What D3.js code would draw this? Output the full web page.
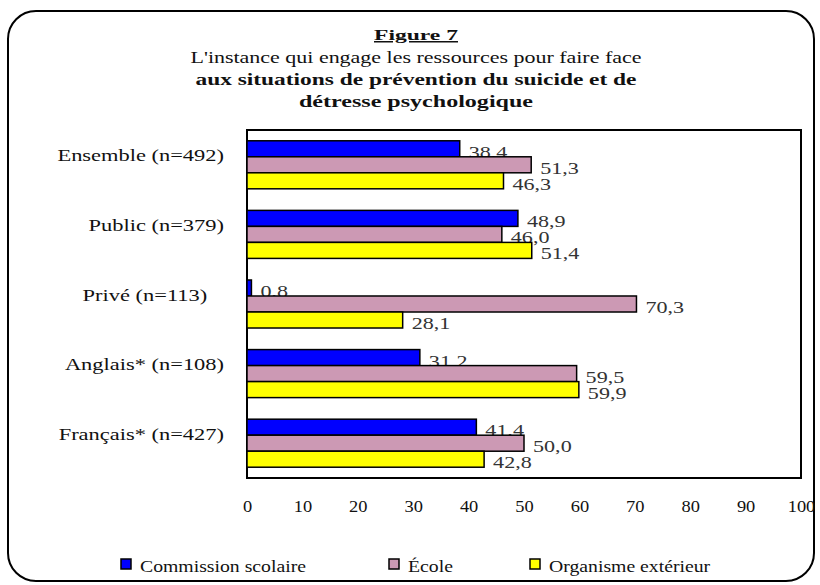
<!DOCTYPE html>
<html>
<head>
<meta charset="utf-8">
<script src="https://cdn.jsdelivr.net/npm/d3@7/dist/d3.min.js"></script>
<style>
  body { margin: 0; background: #fff; }
  svg text { font-family: "Liberation Serif", "Times New Roman", serif; }
</style>
</head>
<body>
<div id="chart"></div>
<script>
// data
const categories = ["Ensemble (n=492)", "Public (n=379)", "Privé (n=113)\u00a0\u00a0\u00a0", "Anglais* (n=108)", "Français* (n=427)"];
const seriesNames = ["Commission scolaire", "École", "Organisme extérieur"];
const commission = [38.4, 48.9, 0.8, 31.2, 41.4];
const ecole = [51.3, 46.0, 70.3, 59.5, 50.0];
const organisme = [46.3, 51.4, 28.1, 59.9, 42.8];
const xTicks = [0, 10, 20, 30, 40, 50, 60, 70, 80, 90, 100];
const titleLines = [
  "Figure 7",
  "L'instance qui engage les ressources pour faire face",
  "aux situations de prévention du suicide et de",
  "détresse psychologique"
];

const colors = ["#0000ff", "#cc99b4", "#ffff00"];
const seriesValues = [commission, ecole, organisme];

const width = 820, height = 585;
const plot = {left: 247, right: 801, top: 130, bottom: 478};

// the original glyphs are drawn wider than normal Times
function stretch(sel, k) {
  sel.each(function() {
    const len = this.getComputedTextLength();
    d3.select(this)
      .attr("textLength", len * k)
      .attr("lengthAdjust", "spacingAndGlyphs");
  });
}

const svg = d3.select("#chart").append("svg")
  .attr("width", width)
  .attr("height", height);

svg.append("rect")
  .attr("width", width).attr("height", height)
  .attr("fill", "#fff");

// rounded outer frame
svg.append("rect")
  .attr("x", 8).attr("y", 11)
  .attr("width", 806).attr("height", 570)
  .attr("rx", 28).attr("ry", 28)
  .attr("fill", "none")
  .attr("stroke", "#000")
  .attr("stroke-width", 2);

// title
const titleStyles = [
  {y: 40, size: 15, weight: "bold", deco: "underline", w: 84},
  {y: 63, size: 16, weight: "normal", deco: "none", w: 451},
  {y: 85, size: 16, weight: "bold", deco: "none", w: 441},
  {y: 107, size: 16, weight: "bold", deco: "none", w: 234}
];
svg.append("g").selectAll("text")
  .data(titleLines)
  .join("text")
  .attr("x", 416)
  .attr("y", (d, i) => titleStyles[i].y)
  .attr("text-anchor", "middle")
  .attr("font-size", (d, i) => titleStyles[i].size)
  .attr("font-weight", (d, i) => titleStyles[i].weight)
  .attr("text-decoration", (d, i) => titleStyles[i].deco)
  .attr("textLength", (d, i) => titleStyles[i].w)
  .attr("lengthAdjust", "spacingAndGlyphs")
  .attr("fill", "#111")
  .text(d => d);

const x = d3.scaleLinear().domain([0, 100]).range([plot.left, plot.right]);
const y = d3.scaleBand().domain(categories).range([plot.top, plot.bottom])
  .paddingInner(0.31).paddingOuter(0.155);
const ySub = d3.scaleBand().domain(seriesNames).range([0, y.bandwidth()]);

// plot box
svg.append("rect")
  .attr("x", plot.left).attr("y", plot.top)
  .attr("width", plot.right - plot.left)
  .attr("height", plot.bottom - plot.top)
  .attr("fill", "#fff")
  .attr("stroke", "#000")
  .attr("stroke-width", 2);

// bars and labels, one series at a time so later bars overlap earlier labels
seriesNames.forEach((name, si) => {
  const rows = categories.map((c, ci) => ({cat: c, value: seriesValues[si][ci]}));
  const g = svg.append("g");

  g.selectAll("rect")
    .data(rows)
    .join("rect")
    .attr("x", x(0))
    .attr("y", d => y(d.cat) + ySub(name))
    .attr("width", d => x(d.value) - x(0))
    .attr("height", ySub.bandwidth())
    .attr("fill", colors[si])
    .attr("stroke", "#000")
    .attr("stroke-width", 1.5);

  g.selectAll("text")
    .data(rows)
    .join("text")
    .attr("x", d => x(d.value) + 9)
    .attr("y", d => y(d.cat) + ySub(name) + ySub.bandwidth() / 2 + 9)
    .attr("font-size", 17)
    .attr("fill", "#333")
    .text(d => d3.format(".1f")(d.value).replace(".", ","))
    .call(stretch, 1.3);
});

// x axis (labels only)
const xAxis = svg.append("g")
  .attr("transform", "translate(0," + plot.bottom + ")")
  .call(d3.axisBottom(x).tickValues(xTicks).tickSize(0).tickPadding(23));
xAxis.select(".domain").remove();
xAxis.selectAll("text")
  .attr("font-size", 16)
  .attr("fill", "#111")
  .call(stretch, 1.15);

// category axis
const yAxis = svg.append("g")
  .attr("transform", "translate(" + plot.left + ",0)")
  .call(d3.axisLeft(y).tickSize(0).tickPadding(23));
yAxis.select(".domain").remove();
yAxis.selectAll("text")
  .attr("font-size", 17)
  .attr("dy", "-0.2em")
  .attr("fill", "#111")
  .call(stretch, 1.32);

// legend
const legendX = [121, 389, 530];
const legend = svg.append("g").selectAll("g")
  .data(seriesNames)
  .join("g")
  .attr("transform", (d, i) => "translate(" + legendX[i] + ",559)");
legend.append("rect")
  .attr("width", 10).attr("height", 10)
  .attr("fill", (d, i) => colors[i])
  .attr("stroke", "#000")
  .attr("stroke-width", 1.5);
legend.append("text")
  .attr("x", 19).attr("y", 13)
  .attr("font-size", 17)
  .attr("fill", "#111")
  .text(d => d)
  .call(stretch, 1.16);
</script>
</body>
</html>
